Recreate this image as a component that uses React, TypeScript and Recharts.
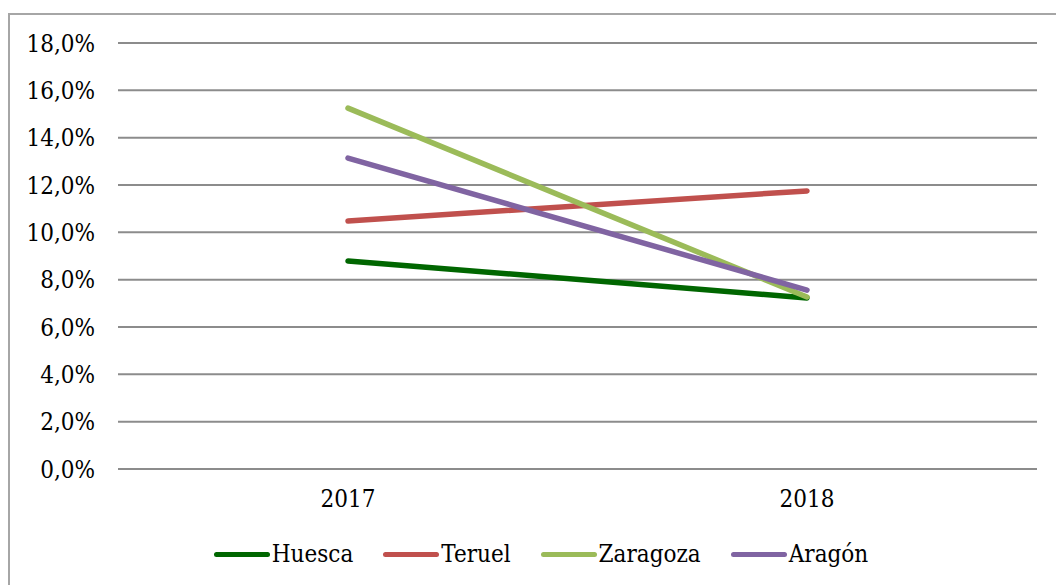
import React from "react";
import { LineChart, Line, XAxis, YAxis, CartesianGrid } from "recharts";

const YEARS = ["2017", "2018"];
const HUESCA = [0.0879, 0.0723];
const TERUEL = [0.1048, 0.1175];
const ZARAGOZA = [0.1525, 0.0727];
const ARAGON = [0.1314, 0.0756];
const Y_TICKS = [0, 0.02, 0.04, 0.06, 0.08, 0.1, 0.12, 0.14, 0.16, 0.18];

const SERIES = [
  { key: "Huesca", values: HUESCA, color: "#006600" },
  { key: "Teruel", values: TERUEL, color: "#C0504D" },
  { key: "Zaragoza", values: ZARAGOZA, color: "#9BBB59" },
  { key: "Aragón", values: ARAGON, color: "#8064A2" },
];

const data = YEARS.map((year, i) => {
  const row: Record<string, string | number> = { year };
  SERIES.forEach((s) => (row[s.key] = s.values[i]));
  return row;
});

const FONT = "'DejaVu Serif Condensed', 'DejaVu Serif', serif";
const FS = 24;

const fmtPct = (v: number) => (v * 100).toFixed(1).replace(".", ",") + "%";

export default function App() {
  return (
    <div
      style={{
        position: "absolute",
        left: 0,
        top: 0,
        width: 1056,
        height: 585,
        overflow: "hidden",
        background: "#fff",
        fontFamily: FONT,
      }}
    >
      {/* chart frame, runs off the right and bottom edges */}
      <div
        style={{
          position: "absolute",
          left: 8,
          top: 13,
          width: 1080,
          height: 620,
          border: "2px solid #a6a6a6",
        }}
      />
      <div style={{ position: "absolute", left: 0, top: 0 }}>
        <LineChart
          width={1056}
          height={585}
          data={data}
          margin={{ top: 43, right: 19, bottom: 86, left: 8 }}
        >
          <CartesianGrid horizontal vertical={false} stroke="#8c8c8c" strokeWidth={2} />
          <XAxis
            dataKey="year"
            height={30}
            padding={{ left: 230, right: 230 }}
            axisLine={false}
            tickLine={false}
            tickSize={0}
            tickMargin={21}
            tick={{ fill: "#000", fontSize: FS, fontFamily: FONT }}
          />
          <YAxis
            width={110}
            domain={[0, 0.18]}
            ticks={Y_TICKS}
            tickFormatter={fmtPct}
            axisLine={false}
            tickLine={false}
            tickSize={0}
            tickMargin={23}
            interval={0}
            tick={{ fill: "#000", fontSize: FS, fontFamily: FONT }}
          />
          {SERIES.map((s) => (
            <Line
              key={s.key}
              dataKey={s.key}
              stroke={s.color}
              strokeWidth={5.5}
              strokeLinecap="round"
              dot={false}
              activeDot={false}
              isAnimationActive={false}
            />
          ))}
        </LineChart>
      </div>

      {/* legend */}
      <div
        style={{
          position: "absolute",
          left: 0,
          width: 1056,
          top: 540,
          display: "flex",
          justifyContent: "center",
          gap: 30,
          fontSize: FS,
          color: "#000",
          paddingLeft: 26,
          boxSizing: "border-box",
        }}
      >
        {SERIES.map((s) => (
          <div key={s.key} style={{ display: "flex", alignItems: "center" }}>
            <span
              style={{
                display: "inline-block",
                width: 56,
                height: 5,
                borderRadius: 3,
                background: s.color,
                marginRight: 2,
              }}
            />
            <span>{s.key}</span>
          </div>
        ))}
      </div>
    </div>
  );
}
